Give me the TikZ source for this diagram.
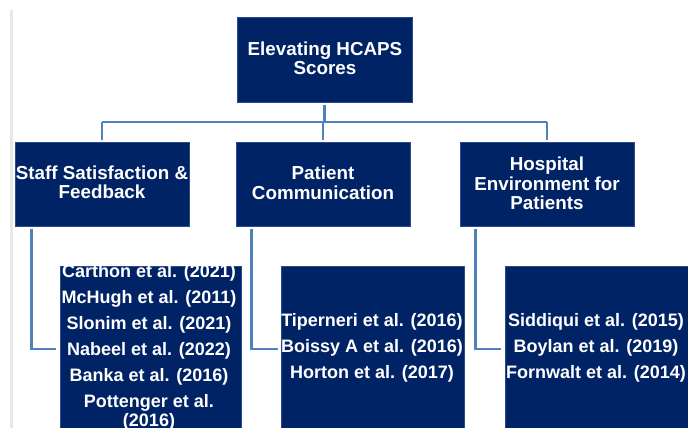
\documentclass[tikz,border=0pt]{standalone}
\usepackage{fontspec}
\setmainfont{Liberation Sans}
\begin{document}
\begin{tikzpicture}[x=1pt,y=-1pt,
  box/.style={draw=boxedge, line width=0.6pt, fill=navy, inner sep=0pt},
  txt/.style={text=white, font=\bfseries\fontsize{18.8}{19.5}\selectfont, align=center, inner sep=0pt},
  lst/.style={text=white, font=\bfseries\fontsize{18}{18.5}\selectfont, align=center, inner sep=0pt},
  conn/.style={draw=steel, line width=2.6pt}]
\definecolor{navy}{RGB}{0,35,102}
\definecolor{boxedge}{RGB}{40,75,140}
\definecolor{steel}{RGB}{79,129,189}
\definecolor{rule}{RGB}{232,232,232}

\useasboundingbox (0,0) rectangle (688,428);
\fill[white] (0,0) rectangle (688,428);

% thin margin rule on the left
\coordinate (r1) at (11,10);
\coordinate (r2) at (11,428);
\draw[rule, line width=3pt] (r1) -- (r2);

% root
\node[box, minimum width=175pt, minimum height=85pt] (top) at (324.5,59.5) {};
\node[txt] (toptxt) at (325,58.5) {Elevating HCAPS\\Scores};

% second level
\node[box, minimum width=174pt, minimum height=84pt] (s1) at (102,184) {};
\node[box, minimum width=174pt, minimum height=84pt] (s2) at (323,184) {};
\node[box, minimum width=174pt, minimum height=84pt] (s3) at (547,184) {};
\node[txt] (s1txt) at (102,182.5) {Staff Satisfaction \&\\Feedback};
\node[txt] (s2txt) at (323,183) {Patient\\Communication};
\node[txt] (s3txt) at (547,183.5) {Hospital\\Environment for\\Patients};

% third level
\node[box, minimum width=181pt, minimum height=166pt] (a) at (150.5,349) {};
\node[box, minimum width=183pt, minimum height=166pt] (b) at (372.5,349) {};
\node[box, minimum width=183pt, minimum height=166pt] (c) at (596.5,349) {};

\node[lst] (atxt) at (149,347.5) {Carthon et al. (2021)\\[7.5pt]McHugh et al. (2011)\\[7.5pt]Slonim et al. (2021)\\[7.5pt]Nabeel et al. (2022)\\[7.5pt]Banka et al. (2016)\\[7.5pt]Pottenger et al.\\(2016)};
\node[lst] (btxt) at (372,348) {Tiperneri et al. (2016)\\[7.5pt]Boissy A et al. (2016)\\[7.5pt]Horton et al. (2017)};
\node[lst] (ctxt) at (596,347.5) {Siddiqui et al. (2015)\\[7.5pt]Boylan et al. (2019)\\[7.5pt]Fornwalt et al. (2014)};

% connectors: root to second level
\coordinate (bus) at (325,122);
\draw[conn] ([yshift=-3pt]top.south) -- (top.south |- bus);
\draw[conn] (s1.north |- bus) -- (s3.north |- bus);
\draw[conn] (s1.north |- bus) -- ([yshift=2pt]s1.north);
\draw[conn] (s2.north |- bus) -- ([yshift=2pt]s2.north);
\draw[conn] (s3.north |- bus) -- ([yshift=2pt]s3.north);

% connectors: second level to reference lists
\draw[conn, shorten >=4pt] ([xshift=17pt,yshift=-3pt]s1.south west) |- (a.west);
\draw[conn, shorten >=3pt] ([xshift=16pt,yshift=-3pt]s2.south west) |- (b.west);
\draw[conn, shorten >=4pt] ([xshift=16pt,yshift=-3pt]s3.south west) |- (c.west);
\end{tikzpicture}
\end{document}
